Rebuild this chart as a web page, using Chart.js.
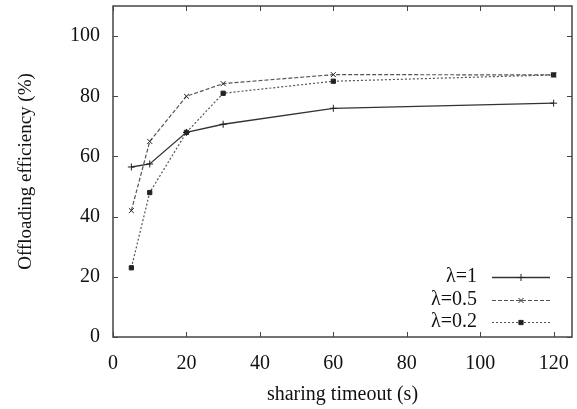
<!DOCTYPE html>
<html>
<head>
<meta charset="utf-8">
<script src="https://cdn.jsdelivr.net/npm/chart.js@4.4.1/dist/chart.umd.min.js"></script>
<style>
  html, body { margin: 0; padding: 0; background: #fff; }
  #wrap { width: 577px; height: 409px; }
</style>
</head>
<body>
<div id="wrap"><canvas id="myChart" width="577" height="409"></canvas></div>
<script>
// sharing timeout (s) and offloading efficiency (%) for each lambda
const timeouts = [5, 10, 20, 30, 60, 120];
const effLambda1 = [56.5, 57.5, 68, 70.7, 76, 77.7];
const effLambda05 = [42, 65, 80, 84.2, 87.2, 87.1];
const effLambda02 = [23, 48, 68, 81, 85, 87.1];
const seriesNames = ['λ=1', 'λ=0.5', 'λ=0.2'];
const xTickValues = [0, 20, 40, 60, 80, 100, 120];
const yTickValues = [0, 20, 40, 60, 80, 100];

const serif = "'Liberation Serif', 'DejaVu Serif', serif";

function toPoints(ys){
    return timeouts.map((t, i) => ({x: t, y: ys[i]}));
}

const styles = [
    {color: '#333', dash: [], pointStyle: 'cross', radius: 3.5, fill: '#333', width: 1.3},
    {color: '#555', dash: [4, 2], pointStyle: 'crossRot', radius: 3.5, fill: '#555', width: 1.2},
    {color: '#555', dash: [2, 2], pointStyle: 'rect', radius: 3, fill: '#222', width: 1.2}
];
const allValues = [effLambda1, effLambda05, effLambda02];

let datasets = [];
allValues.map((vals, i) => {
    let s = styles[i];
    datasets.push({
        label: seriesNames[i],
        data: toPoints(vals),
        borderColor: s.color,
        borderWidth: s.width,
        borderDash: s.dash,
        pointStyle: s.pointStyle,
        pointRadius: s.radius,
        pointBorderWidth: 1,
        pointBorderColor: '#222',
        pointBackgroundColor: s.fill,
        tension: 0,
        fill: false
    });
});

// box around the plot with inward ticks on all four sides + legend in the lower right
const framePlugin = {
    id: 'frame',
    afterDatasetsDraw(chart){
        const ctx = chart.ctx;
        const a = chart.chartArea;
        const xs = chart.scales.x, ys = chart.scales.y;
        ctx.save();
        ctx.strokeStyle = '#444';
        ctx.lineWidth = 1.5;
        ctx.setLineDash([]);
        ctx.strokeRect(a.left, a.top, a.right - a.left, a.bottom - a.top);
        ctx.lineWidth = 1;
        const tl = 5;
        ctx.beginPath();
        xTickValues.forEach(v => {
            const px = Math.round(xs.getPixelForValue(v)) + 0.5;
            ctx.moveTo(px, a.bottom); ctx.lineTo(px, a.bottom - tl);
            ctx.moveTo(px, a.top); ctx.lineTo(px, a.top + tl);
        });
        yTickValues.forEach(v => {
            const py = Math.round(ys.getPixelForValue(v)) + 0.5;
            ctx.moveTo(a.left, py); ctx.lineTo(a.left + tl, py);
            ctx.moveTo(a.right, py); ctx.lineTo(a.right - tl, py);
        });
        ctx.stroke();

        // legend
        const textRight = 477, lineL = 492, lineR = 550;
        const rowY = [277, 300, 322];
        ctx.font = '20px ' + serif;
        ctx.fillStyle = '#111';
        ctx.textAlign = 'right';
        ctx.textBaseline = 'middle';
        seriesNames.forEach((name, i) => {
            const s = styles[i];
            ctx.fillText(name, textRight, rowY[i]);
            ctx.strokeStyle = s.color;
            ctx.lineWidth = s.width;
            ctx.setLineDash(s.dash);
            ctx.beginPath();
            ctx.moveTo(lineL, rowY[i] + 0.5);
            ctx.lineTo(lineR, rowY[i] + 0.5);
            ctx.stroke();
            ctx.setLineDash([]);
            ctx.strokeStyle = '#222';
            ctx.fillStyle = s.fill;
            ctx.lineWidth = 1;
            Chart.helpers.drawPoint(ctx, {pointStyle: s.pointStyle, radius: s.radius, rotation: 0, borderWidth: 1},
                (lineL + lineR) / 2, rowY[i] + 0.5);
            ctx.fillStyle = '#111';
        });
        ctx.restore();
    }
};

var ctx = document.getElementById('myChart').getContext('2d');
var myChart = new Chart(ctx, {
    type: 'line',
    data: { datasets: datasets },
    options: {
        responsive: false,
        animation: false,
        layout: { padding: { top: 6, right: 2, left: 0, bottom: 0 } },
        plugins: {
            legend: { display: false },
            tooltip: { enabled: false }
        },
        scales: {
            x: {
                type: 'linear',
                min: 0,
                max: 125,
                afterBuildTicks: scale => { scale.ticks = xTickValues.map(v => ({value: v})); },
                afterFit: scale => {
                    scale.height = 72;
                    scale.paddingLeft = 0;
                    scale.paddingRight = 0;
                },
                grid: { display: false, drawTicks: false },
                border: { display: false },
                ticks: { font: { family: serif, size: 20 }, color: '#111', padding: 15, maxRotation: 0 },
                title: {
                    display: true,
                    text: 'sharing timeout (s)',
                    font: { family: serif, size: 20 },
                    color: '#111',
                    padding: { top: 0, bottom: 2 }
                }
            },
            y: {
                min: 0,
                max: 110,
                afterBuildTicks: scale => { scale.ticks = yTickValues.map(v => ({value: v})); },
                afterFit: scale => {
                    scale.width = 113;
                    scale.paddingTop = 0;
                    scale.paddingBottom = 0;
                },
                grid: { display: false, drawTicks: false },
                border: { display: false },
                ticks: { font: { family: serif, size: 20 }, color: '#111', padding: 13 },
                title: {
                    display: true,
                    text: 'Offloading efficiency (%)',
                    font: { family: serif, size: 19 },
                    color: '#111',
                    padding: { top: 15, bottom: 0 }
                }
            }
        }
    },
    plugins: [framePlugin]
});
</script>
</body>
</html>
